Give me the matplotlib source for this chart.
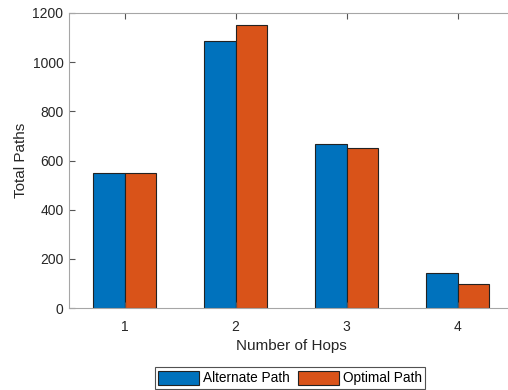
import numpy as np
import matplotlib
matplotlib.use("Agg")
import matplotlib.pyplot as plt

plt.rcParams['font.family'] = ['Liberation Sans', 'DejaVu Sans']

hops = [1, 2, 3, 4]
alternate = [548, 1087, 667, 142]
optimal = [548, 1151, 650, 96]

W, H = 508, 390
fig = plt.figure(figsize=(W / 100, H / 100), dpi=100)
# axes box in pixels: left 69, right ~513 (runs past the image edge), top 13, bottom 308
ax = fig.add_axes([69 / W, 1 - 308 / H, (513 - 69) / W, (308 - 13) / H])

x = np.array(hops, dtype=float)
bw = 0.285
ax.bar(x - bw / 2, alternate, bw, color='#0072BD', edgecolor='#222222',
       linewidth=0.8, label='Alternate Path')
ax.bar(x + bw / 2, optimal, bw, color='#D95319', edgecolor='#222222',
       linewidth=0.8, label='Optimal Path')

ax.set_xlim(0.5, 4.5)
ax.set_ylim(0, 1200)
ax.set_xticks(hops)
ax.set_yticks(range(0, 1201, 200))

txt = '#262626'
for s in ax.spines.values():
    s.set_color('#a6a6a6')
    s.set_linewidth(0.8)
ax.spines['right'].set_visible(False)
ax.tick_params(direction='in', length=4, width=0.8, color='#555555',
               labelsize=10, labelcolor=txt, top=True, right=False)
ax.tick_params(axis='x', pad=8.5)
ax.tick_params(axis='y', pad=4)
ax.set_xlabel('Number of Hops', fontsize=11, color=txt, labelpad=4)
ax.set_ylabel('Total Paths', fontsize=11, color=txt, labelpad=3)

leg = ax.legend(loc='center', bbox_to_anchor=(290 / W, 1 - 378 / H),
                bbox_transform=fig.transFigure, ncol=2, fontsize=9.8,
                frameon=True, fancybox=False, edgecolor='#262626',
                handlelength=3.0, handleheight=1.2, handletextpad=0.3,
                columnspacing=0.6, borderpad=0.25, borderaxespad=0)
leg.get_frame().set_linewidth(0.8)
for t in leg.get_texts():
    t.set_color('black')

fig.savefig('out.png', dpi=100)
